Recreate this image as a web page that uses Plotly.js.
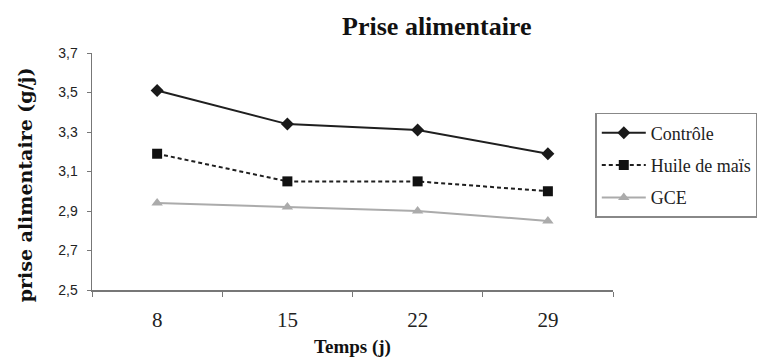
<!DOCTYPE html>
<html><head><meta charset="utf-8">
<script src="https://cdn.plot.ly/plotly-3.0.1.min.js"></script>
<style>html,body{margin:0;padding:0;background:#fff;}#chart{width:769px;height:358px;}</style>
</head><body><div id="chart"></div>
<script>
const categories = ['8', '15', '22', '29'];
const controle = [3.51, 3.34, 3.31, 3.19];
const huile = [3.19, 3.05, 3.05, 3.00];
const gce = [2.94, 2.92, 2.90, 2.85];
const seriesNames = ['Contrôle', 'Huile de maïs', 'GCE'];
const yTitle = 'prise alimentaire (g/j)';

const serif = 'Liberation Serif';
const sans = 'Liberation Sans';

const traces = [
  {x: categories, y: controle, name: seriesNames[0], legendgroup: 'a', type: 'scatter', mode: 'lines+markers',
   line: {color: '#1f1f1f', width: 2}, marker: {symbol: 'diamond', size: 10, color: '#1a1a1a'}},
  {x: categories, y: huile, name: seriesNames[1], legendgroup: 'b', type: 'scatter', mode: 'lines+markers',
   line: {color: '#1f1f1f', width: 2, dash: '4px,3px'}, marker: {symbol: 'square', size: 10, color: '#111'}},
  {x: categories, y: gce, name: seriesNames[2], legendgroup: 'c', type: 'scatter', mode: 'lines+markers',
   line: {color: '#ababab', width: 2}, marker: {symbol: 'triangle-up', size: 10, color: '#ababab'}}
];

const layout = {
  width: 769, height: 358,
  margin: {l: 92, r: 153, t: 53, b: 68},
  paper_bgcolor: '#fff', plot_bgcolor: '#fff',
  font: {family: serif, color: '#222'},
  separators: ',.',
  showlegend: true,
  title: {text: '<b>Prise alimentaire</b>', font: {family: serif, size: 26, color: '#111'},
          x: 0.568, xanchor: 'center', y: 0.927, yanchor: 'middle'},
  xaxis: {
    type: 'category', tickson: 'boundaries', ticks: 'outside', ticklen: 5, tickcolor: '#777',
    showline: true, linecolor: '#777', linewidth: 1.5, showgrid: false, zeroline: false,
    tickfont: {family: serif, size: 21, color: '#222'}, ticklabelstandoff: 10,
    title: {text: '<b>Temps (j)</b>', font: {family: serif, size: 19, color: '#111'}, standoff: 12},
    range: [-0.5, 3.5]
  },
  yaxis: {
    range: [2.5, 3.7], dtick: 0.2, tick0: 2.5, tickformat: '.1f', ticks: 'outside', ticklen: 4, tickcolor: '#777',
    showline: true, linecolor: '#777', linewidth: 1.5, showgrid: false, zeroline: false,
    tickfont: {family: sans, size: 14, color: '#222'}, ticklabelstandoff: 6
  },
  annotations: [{
    text: '<b>' + yTitle + '</b>', textangle: -90, xref: 'paper', yref: 'paper',
    x: -0.128, y: 0.443, xanchor: 'center', yanchor: 'middle', showarrow: false,
    font: {family: 'DejaVu Serif', size: 19, color: '#111'}
  }],
  legend: {
    x: 0.966, xanchor: 'left', y: 0.747, yanchor: 'top',
    bordercolor: '#888', borderwidth: 1.5, bgcolor: '#fff',
    font: {family: serif, size: 18, color: '#222'},
    traceorder: 'grouped', tracegroupgap: 6, itemwidth: 44
  }
};

Plotly.newPlot('chart', traces, layout, {displayModeBar: false, staticPlot: true});
</script>
</body></html>
